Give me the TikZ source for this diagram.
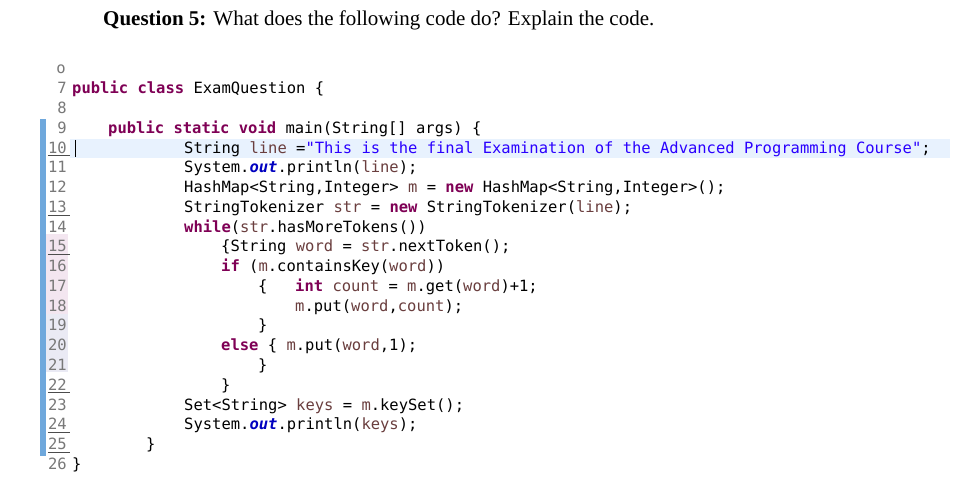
\documentclass[tikz,border=0pt]{standalone}
\usepackage{fontspec}
\setmainfont{Liberation Serif}
\newfontfamily\code{DejaVu Sans Mono}
\definecolor{kwc}{HTML}{7F0055}
\definecolor{stc}{HTML}{2A00FF}
\definecolor{fdc}{HTML}{0000C0}
\definecolor{vrc}{HTML}{6A3E3E}
\definecolor{lnc}{HTML}{787878}
\definecolor{hl}{HTML}{E8F2FE}
\definecolor{bar}{HTML}{6FA8DC}
\definecolor{pinkg}{HTML}{F3E6F0}
\definecolor{lavg}{HTML}{EAEAF4}
\newcommand{\kw}[1]{\textcolor{kwc}{\bfseries #1}}
\newcommand{\vr}[1]{\textcolor{vrc}{#1}}
\newcommand{\st}[1]{\textcolor{stc}{#1}}
\newcommand{\fd}[1]{\textcolor{fdc}{\bfseries\itshape #1}}
\begin{document}
\begin{tikzpicture}[x=1pt,y=-1pt,
  cl/.style={anchor=base west,inner sep=0pt,font=\code\fontsize{15.5}{18}\selectfont},
  ln/.style={anchor=base east,inner sep=0pt,text=lnc,font=\code\fontsize{15.5}{18}\selectfont}]
\useasboundingbox[fill=white] (0,0) rectangle (980,502);
\node[anchor=base west,inner sep=0pt,font=\fontsize{21}{24}\selectfont] (title) at (103,26) {\textbf{Question 5:} What does the following code do? Explain the code.};
% gutter
\fill[bar] (40,119) rectangle (46,456);
\fill[pinkg] (46,234) rectangle (68,314);
\fill[lavg] (46,314) rectangle (68,372);
\fill[hl] (70,139) rectangle (950,158);
\draw[line width=1pt] (75,140) -- (75,157);
% line numbers
\node[ln] (n6) at (66,74) {o};
\foreach \n [evaluate=\n as \yy using {89+(\n-7)*19.75+5}] in {7,8,...,26} {
  \node[ln] (n\n) at (67,\yy) {\n};
}
\foreach \n in {10,13,15,22,24,25} {
  \draw[black!70] (n\n.south west) ++(0,2) -- ++(22,0);
}
% code lines
\node[cl] (c7) at (72,94) {\kw{public} \kw{class} ExamQuestion \{};
\node[cl] (c9) at (108,133.5) {\kw{public} \kw{static} \kw{void} main(String[] args) \{};
\node[cl] (c10) at (184,153.25) {String \vr{line} =\st{"This is the final Examination of the Advanced Programming Course"};};
\node[cl] (c11) at (184,173) {System.\fd{out}.println(\vr{line});};
\node[cl] (c12) at (184,192.75) {HashMap<String,Integer> \vr{m} = \kw{new} HashMap<String,Integer>();};
\node[cl] (c13) at (184,212.5) {StringTokenizer \vr{str} = \kw{new} StringTokenizer(\vr{line});};
\node[cl] (c14) at (184,232.25) {\kw{while}(\vr{str}.hasMoreTokens())};
\node[cl] (c15) at (221,252) {\{String \vr{word} = \vr{str}.nextToken();};
\node[cl] (c16) at (221,271.75) {\kw{if} (\vr{m}.containsKey(\vr{word}))};
\node[cl] (c17a) at (258,291.5) {\{};
\node[cl] (c17) at (295,291.5) {\kw{int} \vr{count} = \vr{m}.get(\vr{word})+1;};
\node[cl] (c18) at (295,311.25) {\vr{m}.put(\vr{word},\vr{count});};
\node[cl] (c19) at (258,331) {\}};
\node[cl] (c20) at (221,350.75) {\kw{else} \{ \vr{m}.put(\vr{word},1);};
\node[cl] (c21) at (258,370.5) {\}};
\node[cl] (c22) at (221,390.25) {\}};
\node[cl] (c23) at (184,410) {Set<String> \vr{keys} = \vr{m}.keySet();};
\node[cl] (c24) at (184,429.75) {System.\fd{out}.println(\vr{keys});};
\node[cl] (c25) at (146,449.5) {\}};
\node[cl] (c26) at (72,469.25) {\}};
\end{tikzpicture}
\end{document}
